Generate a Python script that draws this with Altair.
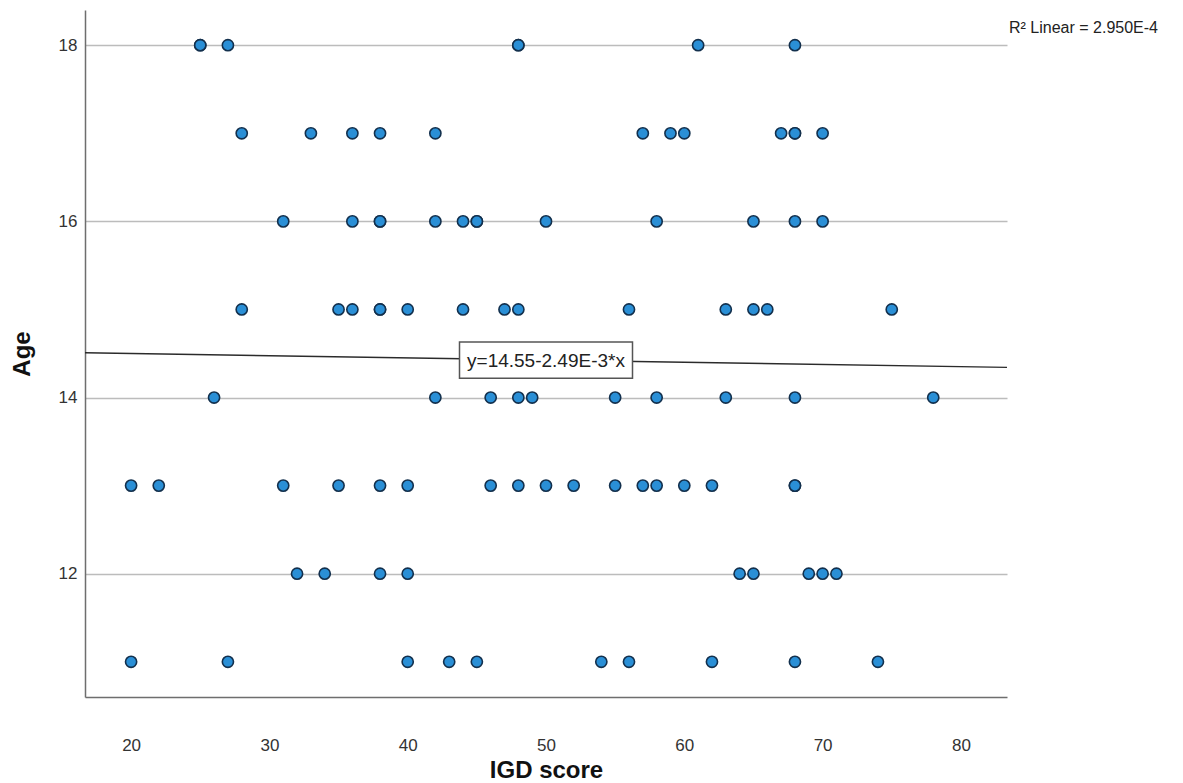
import altair as alt
import pandas as pd

# ---- data ----
ages = [18, 17, 16, 15, 14, 13, 12, 11]
igd_by_age = {
    18: [25, 25, 27, 48, 48, 61, 68],
    17: [28, 33, 36, 38, 42, 57, 59, 60, 67, 68, 68, 70],
    16: [31, 36, 38, 38, 42, 44, 45, 45, 50, 58, 65, 68, 70],
    15: [28, 35, 36, 38, 38, 40, 44, 47, 48, 56, 63, 65, 66, 75],
    14: [26, 42, 46, 48, 49, 55, 58, 63, 68, 78],
    13: [20, 22, 31, 35, 38, 40, 46, 48, 50, 52, 55, 57, 58, 60, 62, 68, 68],
    12: [32, 34, 38, 40, 64, 65, 69, 70, 71],
    11: [20, 27, 40, 43, 45, 54, 56, 62, 68, 74],
}
x_ticks = [20, 30, 40, 50, 60, 70, 80]
y_ticks = [12, 14, 16, 18]
x_domain = [16.667, 83.333]
y_domain = [10.6, 18.4]

intercept = 14.55
slope = -2.49e-3
equation_label = "y=14.55-2.49E-3*x"
r2_label = "R\u00b2 Linear = 2.950E-4"

rows = [{"IGD": v, "Age": a} for a in ages for v in igd_by_age[a]]
pts = pd.DataFrame(rows)

fit = pd.DataFrame({"IGD": x_domain})
fit["Age"] = intercept + slope * fit["IGD"]

mid_x = (x_domain[0] + x_domain[1]) / 2
eq = pd.DataFrame({"IGD": [mid_x], "Age": [intercept + slope * mid_x], "label": [equation_label]})

FONT = "Liberation Sans"

xscale = alt.Scale(domain=x_domain, nice=False, zero=False)
yscale = alt.Scale(domain=y_domain, nice=False, zero=False)

x_axis = alt.Axis(values=x_ticks, grid=False, ticks=False, labelPadding=48, format="d",
                  labelBaseline="middle", labelFontSize=17, labelColor="#333333",
                  labelFont=FONT, title="IGD score", titleFont=FONT, titleFontSize=24,
                  titleFontWeight="bold", titleColor="#111111", titleY=80,
                  titleBaseline="alphabetic", domainColor="#6e6e6e", domainWidth=1.5)
y_axis = alt.Axis(values=y_ticks, grid=True, gridColor="#bcbcbc", gridWidth=1.5, format="d",
                  ticks=False, labelPadding=8, labelFontSize=17, labelColor="#333333",
                  labelFont=FONT, title="Age", titleFont=FONT, titleFontSize=24,
                  titleFontWeight="bold", titleColor="#111111", titleX=-63,
                  titleBaseline="middle", titleAngle=270,
                  domainColor="#6e6e6e", domainWidth=1.5)

points = alt.Chart(pts).mark_circle(
    size=125, color="#2a8fd6", stroke="#13304d", strokeWidth=1.6, opacity=1
).encode(
    x=alt.X("IGD:Q", scale=xscale, axis=x_axis),
    y=alt.Y("Age:Q", scale=yscale, axis=y_axis),
)

line = alt.Chart(fit).mark_line(color="#2b2b2b", strokeWidth=1.4, clip=True).encode(
    x=alt.X("IGD:Q", scale=xscale),
    y=alt.Y("Age:Q", scale=yscale),
)

box = alt.Chart(eq).mark_point(
    shape="M-1,-0.21H1V0.21H-1Z", size=29929, filled=True, fill="white",
    stroke="#555555", strokeWidth=1.5, opacity=1
).encode(
    x=alt.X("IGD:Q", scale=xscale),
    y=alt.Y("Age:Q", scale=yscale),
)

eq_text = alt.Chart(eq).mark_text(
    font=FONT, fontSize=19, color="#222222", align="center", baseline="middle", dy=1
).encode(
    x=alt.X("IGD:Q", scale=xscale),
    y=alt.Y("Age:Q", scale=yscale),
    text="label:N",
)

r2_text = alt.Chart(pd.DataFrame({"t": [r2_label]})).mark_text(
    font=FONT, fontSize=16, color="#222222", align="left", baseline="middle"
).encode(
    x=alt.value(924), y=alt.value(18), text="t:N"
)

chart = alt.layer(points, line, box, eq_text, r2_text).properties(
    width=922, height=687,
    autosize=alt.AutoSizeParams(type="none"),
    padding={"left": 77, "top": 2, "right": 168, "bottom": 90},
).configure(background="white").configure_view(strokeWidth=0, stroke=None)

chart.save("out.html", embed_options={"renderer": "svg", "actions": False})
